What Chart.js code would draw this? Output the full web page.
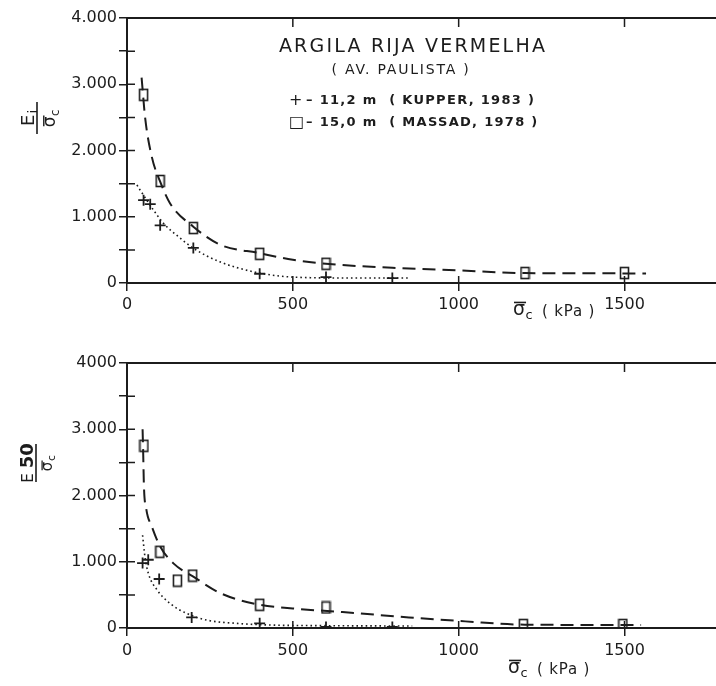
<!DOCTYPE html>
<html><head><meta charset="utf-8">
<script src="https://cdn.jsdelivr.net/npm/chart.js@4/dist/chart.umd.min.js"></script>
<style>
html,body{margin:0;padding:0;background:#fff;overflow:hidden;width:716px;height:686px;position:relative}
canvas{position:absolute;left:0}
</style></head><body>
<canvas id="c1" width="740" height="343" style="top:0"></canvas>
<canvas id="c2" width="740" height="343" style="top:343px"></canvas>
<script>
// ---------- axis ticks ----------
const xTicks = [0, 500, 1000, 1500];
const xTickLabels = ['0', '500', '1000', '1500'];
const yTicks = [0, 500, 1000, 1500, 2000, 2500, 3000, 3500, 4000];
const topYTickLabels = ['0', '', '1.000', '', '2.000', '', '3.000', '', '4.000'];
const botYTickLabels = ['0', '', '1.000', '', '2.000', '', '3.000', '', '4000'];

// ---------- top panel : Ei / sigma_c ----------
const kupperTopX = [50, 70, 100, 200, 400, 600, 800];
const kupperTopY = [1250, 1190, 870, 530, 140, 90, 75];
const massadTopX = [50, 100, 200, 400, 600, 1200, 1500];
const massadTopY = [2840, 1540, 830, 440, 290, 150, 150];
const dashTopX = [44, 55, 75, 100, 130, 200, 280, 400, 500, 600, 800, 1000, 1200, 1565];
const dashTopY = [3100, 2480, 1900, 1530, 1200, 850, 580, 450, 350, 290, 230, 190, 150, 145];
const dotTopX = [30, 40, 80, 110, 155, 200, 280, 380, 460, 520, 700, 850];
const dotTopY = [1480, 1400, 1100, 900, 700, 525, 320, 170, 105, 85, 75, 75];

// ---------- bottom panel : E50 / sigma_c ----------
const kupperBotX = [47, 64, 97, 195, 400, 600, 800];
const kupperBotY = [980, 1030, 740, 160, 70, 15, 15];
const massadBotX = [51, 99, 152, 198, 400, 600, 1195, 1495];
const massadBotY = [2750, 1150, 715, 790, 350, 310, 45, 45];
const dashBotX = [47, 49, 51, 58, 75, 100, 140, 200, 280, 390, 500, 650, 850, 1020, 1200, 1550];
const dashBotY = [3000, 2600, 2150, 1800, 1530, 1230, 975, 775, 530, 360, 295, 240, 160, 100, 50, 45];
const dotBotX = [47, 54, 64, 90, 130, 180, 240, 330, 430, 600, 860];
const dotBotY = [1400, 1080, 830, 580, 370, 220, 120, 70, 45, 35, 30];

// ---------- legend / titles text ----------
const titleLine1 = 'ARGILA RIJA VERMELHA';
const titleLine2 = '( AV. PAULISTA )';
const legendKupper = ['+', '– 11,2 m  ( KUPPER, 1983 )'];
const legendMassad = ['□', '– 15,0 m  ( MASSAD, 1978 )'];
const xTitleUnit = '( kPa )';

const INK = '#1c1c1c';
const FONT = '"DejaVu Sans", sans-serif';

const pts = (xs, ys) => xs.map((x, i) => ({x, y: ys[i]}));

// square marker (slightly taller than wide, as in the drawing)
const sq = document.createElement('canvas');
sq.width = 11; sq.height = 14;
(function(){ const c = sq.getContext('2d'); c.strokeStyle = INK; c.lineWidth = 1.6; c.strokeRect(1.5, 1.5, 8, 11); })();

function drawSigmaC(ctx, x, y, size, subSize) {
  // sigma with overbar and subscript c ; baseline at y
  ctx.font = size + 'px ' + FONT;
  ctx.fillText('σ', x, y);
  const w = ctx.measureText('σ').width;
  ctx.save();
  ctx.lineWidth = Math.max(1.2, size / 12);
  ctx.beginPath();
  ctx.moveTo(x + 1, y - size * 0.66);
  ctx.lineTo(x + w + 1, y - size * 0.66);
  ctx.stroke();
  ctx.restore();
  ctx.font = subSize + 'px ' + FONT;
  ctx.fillText('c', x + w + 0.5, y + size * 0.22);
  return w + ctx.measureText('c').width + 1;
}

function decoPlugin(cfg) {
  return {
    id: 'deco',
    afterDraw(chart) {
      const ctx = chart.ctx, a = chart.chartArea, xs = chart.scales.x, ys = chart.scales.y;
      ctx.save();
      ctx.strokeStyle = INK; ctx.fillStyle = INK;
      // inner halves of the crossing ticks + right axis ticks
      ctx.lineWidth = 1.5;
      ctx.beginPath();
      yTicks.forEach(v => {
        const py = ys.getPixelForValue(v);
        ctx.moveTo(a.left, py); ctx.lineTo(a.left + 8, py);
        ctx.moveTo(a.right - 8, py); ctx.lineTo(a.right + 8, py);
      });
      xTicks.slice(1).forEach(v => {
        const px = xs.getPixelForValue(v);
        ctx.moveTo(px, a.bottom); ctx.lineTo(px, a.bottom - 7);
        ctx.moveTo(px, a.top); ctx.lineTo(px, a.top + 9);
      });
      ctx.stroke();
      // frame top and right
      ctx.lineWidth = 2;
      ctx.beginPath();
      ctx.moveTo(a.left, a.top); ctx.lineTo(a.right, a.top); ctx.lineTo(a.right, a.bottom);
      ctx.stroke();

      // x axis title
      ctx.textAlign = 'left'; ctx.textBaseline = 'alphabetic';
      drawSigmaC(ctx, cfg.xTitle.x, cfg.xTitle.y, 19, 13);
      ctx.font = '15px ' + FONT;
      ctx.letterSpacing = '0.8px';
      ctx.fillText(xTitleUnit, cfg.xTitle.x + 29, cfg.xTitle.y + 1);
      ctx.letterSpacing = '0px';

      // y axis title (rotated fraction)
      const f = cfg.yTitle;
      ctx.save();
      ctx.translate(f.cx, f.cy);
      ctx.rotate(-Math.PI / 2);
      ctx.lineWidth = 1.6;
      ctx.beginPath(); ctx.moveTo(-f.half, 0); ctx.lineTo(f.half, 0); ctx.stroke();
      // numerator
      ctx.font = f.eFont + ' ' + FONT;
      const we = ctx.measureText('E').width;
      ctx.font = f.subFont + ' ' + FONT;
      const ws = ctx.measureText(f.sub).width;
      const tot = we + f.gap + ws;
      let x0 = -tot / 2;
      ctx.font = f.eFont + ' ' + FONT;
      ctx.fillText('E', x0, -3);
      ctx.font = f.subFont + ' ' + FONT;
      ctx.fillText(f.sub, x0 + we + f.gap, -3 + f.subDrop);
      // denominator
      ctx.font = f.denSize + 'px ' + FONT;
      const wd = ctx.measureText('σ').width + f.denSize * 0.45;
      drawSigmaC(ctx, -wd / 2, f.denBase, f.denSize, Math.round(f.denSize * 0.7));
      ctx.restore();

      // annotation (top panel only)
      if (cfg.legend) {
        ctx.textAlign = 'center'; ctx.textBaseline = 'middle';
        ctx.font = '19px ' + FONT;
        ctx.letterSpacing = '2.2px';
        ctx.fillText(titleLine1, 413, 47);
        ctx.font = '14px ' + FONT;
        ctx.letterSpacing = '1.8px';
        ctx.fillText(titleLine2, 401, 70);
        ctx.textAlign = 'left';
        ctx.font = '16px ' + FONT;
        ctx.letterSpacing = '0px';
        ctx.fillText(legendKupper[0], 289, 101);
        ctx.fillText(legendMassad[0], 289, 123);
        ctx.font = 'bold 13px ' + FONT;
        ctx.letterSpacing = '1.3px';
        ctx.fillText(legendKupper[1], 306, 101);
        ctx.fillText(legendMassad[1], 306, 123);
        ctx.letterSpacing = '0px';
      }
      ctx.restore();
    }
  };
}

function makeChart(id, d, cfg) {
  return new Chart(document.getElementById(id), {
    type: 'scatter',
    data: {
      datasets: [
        {data: pts(d.dashX, d.dashY), showLine: true, borderColor: INK, borderWidth: 2,
         borderDash: [13, 7], pointRadius: 0, cubicInterpolationMode: 'monotone', fill: false},
        {data: pts(d.dotX, d.dotY), showLine: true, borderColor: INK, borderWidth: 1.6,
         borderDash: [1.6, 3], pointRadius: 0, cubicInterpolationMode: 'monotone', fill: false},
        {data: pts(d.kX, d.kY), pointStyle: 'cross', pointRadius: 5.5, borderColor: INK,
         borderWidth: 1.8, showLine: false},
        {data: pts(d.mX, d.mY), pointStyle: sq, showLine: false}
      ]
    },
    options: {
      responsive: false, animation: false, devicePixelRatio: 1,
      layout: {padding: {top: cfg.top, right: 16, left: 0, bottom: 0}},
      plugins: {legend: {display: false}, tooltip: {enabled: false}},
      scales: {
        x: {
          type: 'linear', min: 0, max: 1800,
          afterBuildTicks: s => { s.ticks = xTicks.map(v => ({value: v})); },
          afterFit: s => { s.height = cfg.xh; },
          grid: {drawOnChartArea: false, drawTicks: true, tickLength: 8, color: INK, lineWidth: 1.5},
          border: {display: true, color: INK, width: 2},
          ticks: {color: INK, font: {family: FONT, size: 16}, padding: cfg.xpad, maxRotation: 0,
                  callback: v => { const i = xTicks.indexOf(v); return i >= 0 ? xTickLabels[i] : ''; }}
        },
        y: {
          type: 'linear', min: 0, max: 4000,
          afterBuildTicks: s => { s.ticks = yTicks.map(v => ({value: v})); },
          afterFit: s => { s.width = 127; },
          grid: {drawOnChartArea: false, drawTicks: true, tickLength: 8, color: INK, lineWidth: 1.5},
          border: {display: true, color: INK, width: 2},
          ticks: {color: INK, font: {family: FONT, size: 16}, padding: 2,
                  callback: v => { const i = yTicks.indexOf(v); return i >= 0 ? cfg.yLabels[i] : ''; }}
        }
      }
    },
    plugins: [decoPlugin(cfg)]
  });
}

makeChart('c1',
  {kX: kupperTopX, kY: kupperTopY, mX: massadTopX, mY: massadTopY,
   dashX: dashTopX, dashY: dashTopY, dotX: dotTopX, dotY: dotTopY},
  {top: 18, xh: 60, xpad: 4, yLabels: topYTickLabels, legend: true,
   xTitle: {x: 513, y: 315},
   yTitle: {cx: 37, cy: 118, half: 16, eFont: '18px', sub: 'i', subFont: '13px', gap: 1, subDrop: 3,
            denSize: 17, denBase: 18}});

makeChart('c2',
  {kX: kupperBotX, kY: kupperBotY, mX: massadBotX, mY: massadBotY,
   dashX: dashBotX, dashY: dashBotY, dotX: dotBotX, dotY: dotBotY},
  {top: 20, xh: 58, xpad: 5, yLabels: botYTickLabels, legend: false,
   xTitle: {x: 508, y: 330},
   yTitle: {cx: 36, cy: 463 - 343, half: 19, eFont: '15px', sub: '50', subFont: 'bold 18px', gap: 5, subDrop: 0,
            denSize: 15, denBase: 16}});
</script>
</body></html>
